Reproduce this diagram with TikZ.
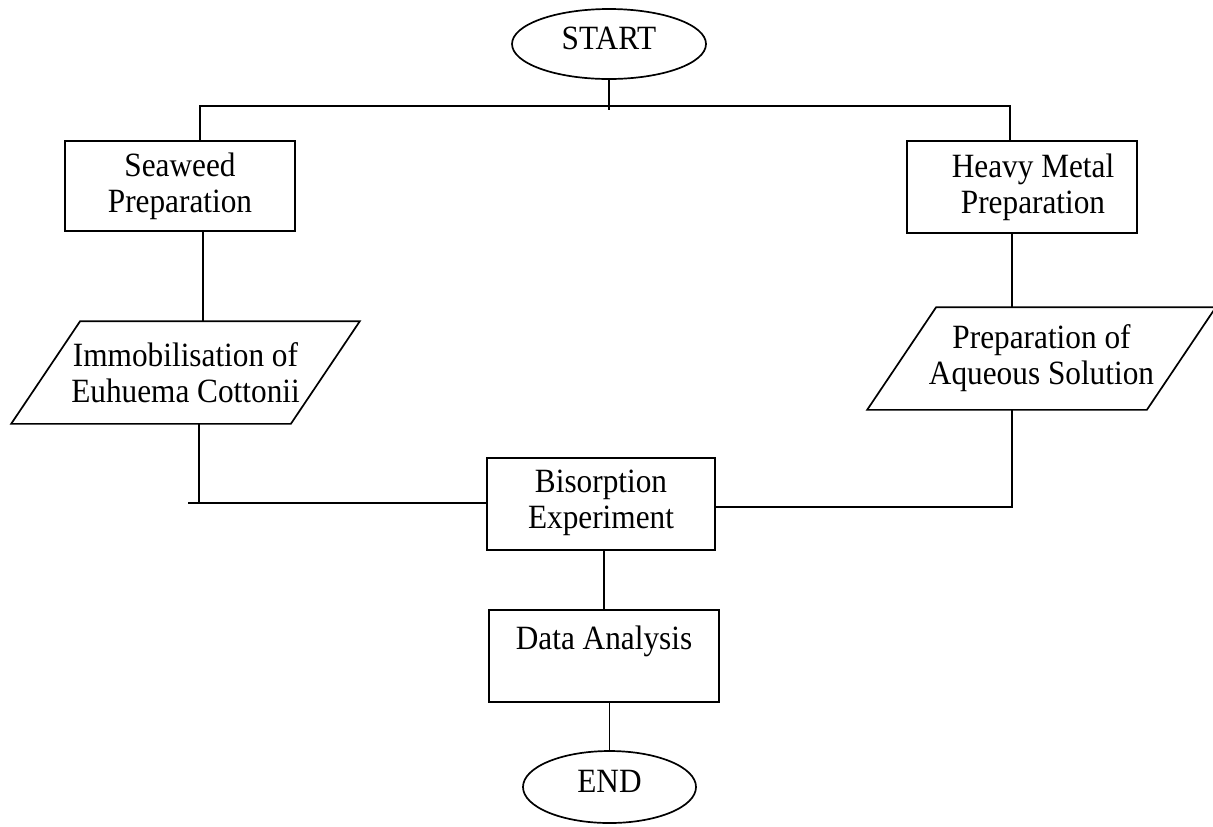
\documentclass[tikz,border=0pt]{standalone}
\usepackage{fontspec}
\setmainfont{Liberation Serif}[FakeStretch=0.92]
\usetikzlibrary{shapes.geometric}
\newcommand{\ioshape}[1]{\draw ([xshift=17.25pt]#1.north west) -- ([xshift=17.25pt]#1.north east) -- ([xshift=-17.25pt]#1.south east) -- ([xshift=-17.25pt]#1.south west) -- cycle;}

\begin{document}
\begin{tikzpicture}[x=0.5pt,y=-0.5pt,line width=0.85pt,
	font=\fontsize{17}{18}\selectfont,
	term/.style={draw,ellipse,inner sep=0pt,text depth=5.5pt},
	box/.style={draw,rectangle,align=center,inner sep=0pt,minimum width=115pt,minimum height=45pt},
	io/.style={rectangle,align=center,inner sep=0pt,minimum width=139pt,minimum height=50.5pt}]
	\useasboundingbox (0,0) rectangle (1213,826);
	\node[term,minimum width=97pt,minimum height=35pt] (start) at (609,44) {START};
	\node[box] (seaweed) at (180,186) {Seaweed\\Preparation};
	\node[box,minimum height=46pt] (heavy) at (1022,187) {\hspace*{11pt}Heavy Metal\\\hspace*{11pt}Preparation};
	\node[io] (immob) at (185.5,372.5) {Immobilisation of\\Euhuema Cottonii};
	\node[io] (aq) at (1041.5,358.5) {Preparation of\\Aqueous Solution};
	\node[box,minimum width=114pt,minimum height=46pt] (bis) at (601,504) {Bisorption\\Experiment\\[-13pt]~};
	\node[box,minimum height=46pt] (data) at (604,656) {Data Analysis\\~};
	\node[term,minimum width=86.5pt,minimum height=36pt] (end) at (609.5,787) {END};
	\ioshape{immob}
	\ioshape{aq}
	\coordinate (stem) at (609,110);
	\coordinate (barL) at (200,106);
	\coordinate (barR) at (1010,106);
	\coordinate (joinL) at (199,503);
	\coordinate (joinR) at (1012,507);
	\draw (start.south) -- (stem);
	\draw (seaweed.north -| barL) -- (barL) -- (barR) -- (heavy.north -| barR);
	\draw ([xshift=11.5pt]seaweed.south) -- ([xshift=11.5pt]seaweed.south |- immob.north);
	\draw ([xshift=-5pt]heavy.south) -- ([xshift=-5pt]heavy.south |- aq.north);
	\draw (immob.south -| joinL) -- (joinL);
	\draw ([xshift=-5.5pt]joinL) -- (joinL -| bis.west);
	\draw (aq.south -| joinR) -- (joinR) -- (joinR -| bis.east);
	\draw (bis.south -| data.north) -- (data.north);
	\draw (data.south -| end.north) -- (end.north);
\end{tikzpicture}
\end{document}
